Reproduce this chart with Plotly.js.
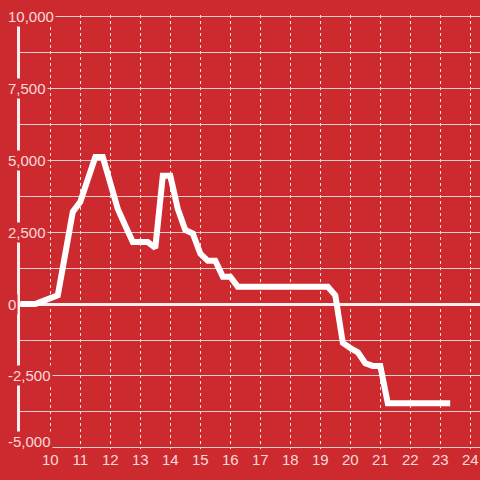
<!DOCTYPE html>
<html>
<head>
<meta charset="utf-8">
<script src="https://cdn.plot.ly/plotly-3.0.1.min.js"></script>
<style>html,body{margin:0;padding:0;background:#cc2a2f;}#chart{width:480px;height:480px;}</style>
</head>
<body>
<div id="chart"></div>
<script>
// Time of day (hours) and values
const hours = [9.00, 9.25, 9.50, 9.75, 10.00, 10.25, 10.50, 10.75, 11.00, 11.25, 11.50, 11.75,
  12.00, 12.25, 12.50, 12.75, 13.00, 13.25, 13.50, 13.75, 14.00, 14.25, 14.50, 14.75,
  15.00, 15.25, 15.50, 15.75, 16.00, 16.25, 16.50, 16.75, 17.00, 17.25, 17.50, 17.75,
  18.00, 18.25, 18.50, 18.75, 19.00, 19.25, 19.50, 19.75, 20.00, 20.25, 20.50, 20.75,
  21.00, 21.25, 21.50, 21.75, 22.00, 22.25, 22.50, 22.75, 23.00, 23.33];
const values = [0, 0, 0, 100, 200, 300, 1750, 3200, 3550, 4350, 5100, 5100,
  4200, 3300, 2720, 2150, 2150, 2150, 1950, 4450, 4450, 3300, 2570, 2450,
  1750, 1500, 1500, 950, 950, 600, 600, 600, 600, 600, 600, 600,
  600, 600, 600, 600, 600, 600, 300, -1350, -1530, -1680, -2060, -2150,
  -2150, -3450, -3450, -3450, -3450, -3450, -3450, -3450, -3450, -3450];
const xTickVals = [10, 11, 12, 13, 14, 15, 16, 17, 18, 19, 20, 21, 22, 23, 24];
const yLabelVals = [10000, 7500, 5000, 2500, 0, -2500, -5000];
const yLabelText = ["10,000", "7,500", "5,000", "2,500", "0", "-2,500", "-5,000"];

const bg = "#cc2a2f";
const labelColor = "rgba(255,235,235,0.92)";
const font = {family: "Liberation Sans, Arial, sans-serif", size: 15, color: labelColor};

const annotations = yLabelVals.map((v, i) => ({
  xref: "paper", yref: "y", x: -0.0315, y: v,
  xanchor: "left", yanchor: "middle",
  yshift: v === -5000 ? 6 : 0,
  text: yLabelText[i], showarrow: false,
  bgcolor: bg, borderpad: 1, font: font
}));

const data = [{
  x: hours, y: values, type: "scatter", mode: "lines",
  line: {color: "#ffffff", width: 6, shape: "linear"},
  hoverinfo: "skip"
}];

const layout = {
  width: 480, height: 480,
  margin: {l: 20, r: 0, t: 15, b: 31, pad: 0},
  paper_bgcolor: bg, plot_bgcolor: bg,
  showlegend: false,
  font: font,
  xaxis: {
    range: [8.99, 24.323],
    tickvals: xTickVals,
    ticktext: xTickVals.map(String),
    showgrid: true, gridcolor: "rgba(255,255,255,0.85)", gridwidth: 1, griddash: "dot",
    zeroline: false, showline: false, ticks: "",
    tickfont: font, fixedrange: true
  },
  yaxis: {
    range: [-5035, 10035],
    dtick: 1250, tick0: 0,
    showticklabels: false,
    showgrid: true, gridcolor: "rgba(225,215,215,0.95)", gridwidth: 1,
    zeroline: true, zerolinecolor: "#f4eeee", zerolinewidth: 3,
    showline: true, linecolor: "#f4eeee", linewidth: 3,
    ticks: "", fixedrange: true
  },
  annotations: annotations
};

Plotly.newPlot("chart", data, layout, {staticPlot: true, displayModeBar: false});
</script>
</body>
</html>
